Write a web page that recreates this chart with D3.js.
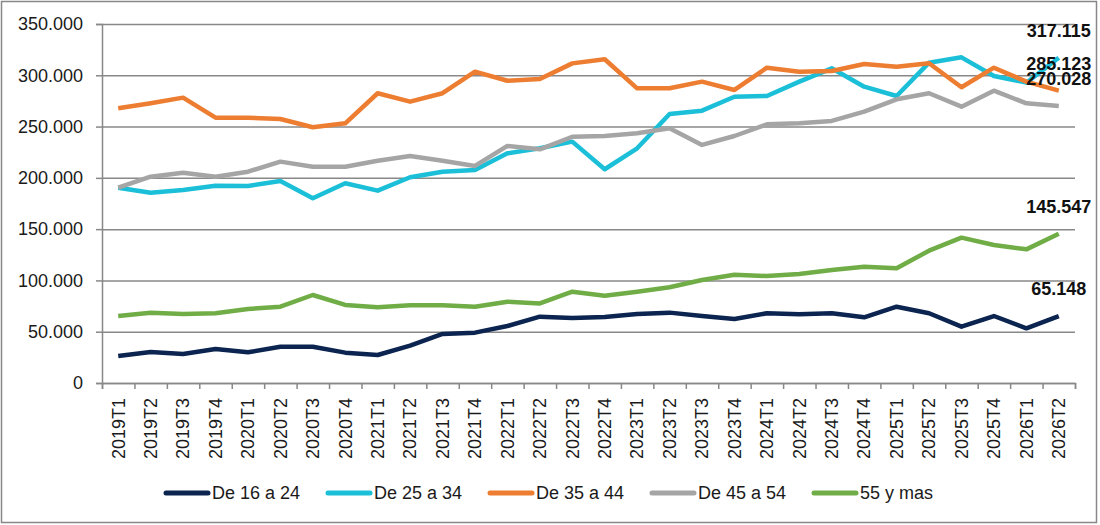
<!DOCTYPE html>
<html>
<head>
<meta charset="utf-8">
<script src="https://cdn.jsdelivr.net/npm/d3@7"></script>
<style>
    body { margin: 0; background: #fff; }
    svg { display: block; font-family: "Liberation Sans", Arial, sans-serif; }
</style>
</head>
<body>
<div id="chart-area"></div>
<script>
// quarters on the x axis
const quarters = ['2019T1', '2019T2', '2019T3', '2019T4', '2020T1', '2020T2', '2020T3', '2020T4',
    '2021T1', '2021T2', '2021T3', '2021T4', '2022T1', '2022T2', '2022T3', '2022T4',
    '2023T1', '2023T2', '2023T3', '2023T4', '2024T1', '2024T2', '2024T3', '2024T4',
    '2025T1', '2025T2', '2025T3', '2025T4', '2026T1', '2026T2']

// values in thousands (last point is the labelled one)
const de16a24 = [26.3, 30.2, 28.3, 33.2, 29.9, 35.4, 35.4, 29.6, 27.3, 36.4, 47.8, 49.1, 55.6, 64.7, 63.4,
    64.3, 67.3, 68.6, 65.3, 62.4, 68.0, 67.0, 68.0, 64.0, 74.4, 68.0, 54.9, 65.3, 53.3, 65.148]
const de25a34 = [190.4, 185.5, 188.2, 192.4, 192.1, 197.0, 180.1, 194.7, 187.5, 200.6, 206.0, 207.7, 223.9, 228.8, 235.3,
    208.4, 228.8, 262.3, 265.5, 279.1, 279.8, 293.8, 306.8, 288.9, 279.8, 312.3, 317.5, 299.3, 292.8, 317.115]
const de35a44 = [267.8, 272.7, 278.2, 258.7, 258.7, 257.4, 249.3, 253.2, 282.5, 274.3, 282.5, 303.5, 294.7, 296.4, 311.6,
    315.6, 287.3, 287.3, 293.8, 285.7, 307.4, 303.5, 304.2, 311.0, 308.4, 311.7, 288.3, 307.4, 293.8, 285.123]
const de45a54 = [190.4, 201.1, 205.0, 201.1, 206.0, 215.8, 210.9, 210.9, 216.7, 221.3, 216.7, 211.6, 231.1, 227.8, 240.1,
    240.8, 243.5, 248.3, 232.1, 240.8, 252.2, 253.2, 255.5, 264.5, 276.6, 282.5, 269.4, 285.0, 272.7, 270.028]
const de55ymas = [65.3, 68.5, 67.3, 67.9, 72.2, 74.4, 85.8, 76.1, 73.8, 75.8, 75.8, 74.4, 79.3, 77.6, 89.0,
    85.0, 89.0, 93.3, 100.4, 105.6, 104.3, 106.3, 110.2, 113.4, 111.8, 129.0, 141.7, 134.6, 130.3, 145.547]

const seriesNames = ['De 16 a 24', 'De 25 a 34', 'De 35 a 44', 'De 45 a 54', '55 y mas']
const seriesValues = [de16a24, de25a34, de35a44, de45a54, de55ymas]
const colors = ['#0b2450', '#1bbfd8', '#ed7d31', '#a5a5a5', '#70ad47']

const yTicks = [0, 50, 100, 150, 200, 250, 300, 350]

const margin = { left: 102, right: 25, top: 24, bottom: 142 }
const width = 1100 - (margin.left + margin.right)
const height = 525 - (margin.top + margin.bottom)

const locale = d3.formatLocale({ decimal: ',', thousands: '.', grouping: [3], currency: ['', ''] })
const fmt = v => locale.format(',d')(Math.round(v * 1000))

const svg = d3.select('#chart-area').append('svg')
    .attr('width', 1100)
    .attr('height', 525)

svg.append('rect')
    .attr('x', 1.5).attr('y', 1.5)
    .attr('width', 1095).attr('height', 521)
    .attr('fill', '#fff')
    .attr('stroke', '#888').attr('stroke-width', 1.5)

const g = svg.append('g')
    .attr('transform', `translate(${margin.left}, ${margin.top})`)

const xScale = d3.scaleBand()
    .domain(quarters)
    .range([0, width])
    .padding(0)

const xEdges = d3.scaleLinear()
    .domain([0, quarters.length])
    .range([0, width])

const yScale = d3.scaleLinear()
    .domain([0, 350])
    .range([height, 0])

// gridlines
const grid = g.append('g')
    .attr('class', 'grid')
    .call(d3.axisLeft(yScale).tickValues(yTicks).tickSize(-width).tickFormat(''))
grid.select('.domain').remove()
grid.selectAll('line')
    .attr('stroke', '#888').attr('stroke-width', 1.5)

// y axis
const yAxis = g.append('g')
    .attr('class', 'y axis')
    .call(d3.axisLeft(yScale).tickValues(yTicks).tickSize(6).tickPadding(13).tickFormat(fmt))
yAxis.select('.domain').attr('stroke', '#888').attr('stroke-width', 1.5)
yAxis.selectAll('line').attr('stroke', '#888').attr('stroke-width', 1.5)
yAxis.selectAll('text')
    .attr('font-size', '18px')
    .attr('fill', '#1a1a1a')

// x axis ticks between the quarters
const xTicks = g.append('g')
    .attr('class', 'x axis-ticks')
    .attr('transform', `translate(0, ${height})`)
    .call(d3.axisBottom(xEdges).tickValues(d3.range(quarters.length + 1)).tickSize(6).tickFormat(''))
xTicks.select('.domain').attr('stroke', '#888').attr('stroke-width', 1.5)
xTicks.selectAll('line').attr('stroke', '#888').attr('stroke-width', 1.5)

// x axis labels (band axis puts them at the band centres)
const xAxis = g.append('g')
    .attr('class', 'x axis')
    .attr('transform', `translate(0, ${height})`)
    .call(d3.axisBottom(xScale).tickSize(0).tickSizeOuter(0))
xAxis.select('.domain').remove()
xAxis.selectAll('text')
    .attr('transform', 'rotate(-90)')
    .attr('x', -15)
    .attr('y', 0)
    .attr('dy', '0.35em')
    .attr('text-anchor', 'end')
    .attr('font-size', '18px')
    .attr('fill', '#1a1a1a')

const line = d3.line()
    .x((d, i) => xScale(quarters[i]) + xScale.bandwidth() / 2)
    .y(d => yScale(d))

g.selectAll('path.series')
    .data(seriesValues).enter().append('path')
    .attr('class', 'series')
    .attr('d', d => line(d))
    .attr('fill', 'none')
    .attr('stroke', (d, i) => colors[i])
    .attr('stroke-width', 4.5)
    .attr('stroke-linejoin', 'round')

// labels on the last quarter
const last = quarters.length - 1
g.selectAll('text.end-label')
    .data(seriesValues).enter().append('text')
    .attr('class', 'end-label')
    .attr('x', xScale(quarters[last]) + xScale.bandwidth() / 2)
    .attr('y', d => yScale(d[last]) - 27)
    .attr('dy', '0.35em')
    .attr('text-anchor', 'middle')
    .attr('font-size', '18px')
    .attr('font-weight', 'bold')
    .attr('fill', '#111')
    .text(d => fmt(d[last]))

// legend
const legend = svg.append('g')
    .attr('class', 'legend')
    .attr('transform', 'translate(166, 493)')

const items = legend.selectAll('g')
    .data(seriesNames).enter().append('g')
    .attr('transform', (d, i) => `translate(${i * 162}, 0)`)

items.append('line')
    .attr('x1', 0).attr('x2', 42)
    .attr('y1', 0).attr('y2', 0)
    .attr('stroke', (d, i) => colors[i])
    .attr('stroke-width', 5)
    .attr('stroke-linecap', 'round')

items.append('text')
    .attr('x', 46)
    .attr('y', 0)
    .attr('dy', '0.35em')
    .attr('font-size', '18px')
    .attr('fill', '#1a1a1a')
    .text(d => d)
</script>
</body>
</html>
